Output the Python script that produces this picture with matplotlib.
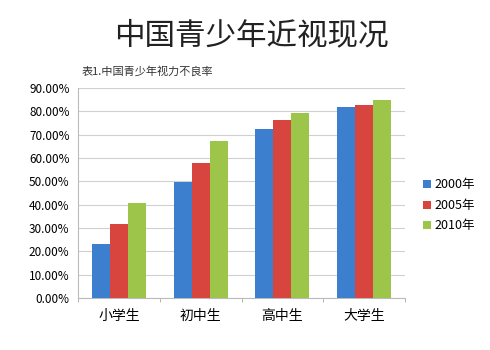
import matplotlib.pyplot as plt
import numpy as np
from matplotlib.ticker import FuncFormatter, MultipleLocator

plt.rcParams['font.family'] = ['Noto Sans CJK SC', 'DejaVu Sans']

categories = ['小学生', '初中生', '高中生', '大学生']
years = ['2000年', '2005年', '2010年']
rate_2000 = [23.0, 49.5, 72.5, 81.7]
rate_2005 = [31.5, 58.0, 76.3, 82.8]
rate_2010 = [40.8, 67.4, 79.3, 84.9]
colors = ['#3d7fcf', '#d8453f', '#9dc54a']

fig = plt.figure(figsize=(4.9, 3.5), dpi=100)
ax = fig.add_axes([0.159, 0.149, 0.668, 0.60])

x = np.arange(len(categories))
w = 0.22
for i, (vals, lab) in enumerate(zip([rate_2000, rate_2005, rate_2010], years)):
    ax.bar(x + (i - 1) * w, vals, w, color=colors[i], label=lab, zorder=3)

ax.set_xlim(-0.5, 3.5)
ax.set_ylim(0, 90)
ax.yaxis.set_major_locator(MultipleLocator(10))
ax.yaxis.set_major_formatter(FuncFormatter(lambda v, p: '%.2f%%' % v))
ax.grid(axis='y', color='#d0d0d0', lw=0.8, zorder=0)
ax.set_xticks(x)
ax.set_xticklabels(categories, fontsize=10)
ax.set_xticks(np.arange(-0.5, 4, 1), minor=True)
ax.tick_params(axis='x', which='major', length=0, pad=8)
ax.tick_params(axis='x', which='minor', length=3, color='#aaaaaa')
ax.tick_params(axis='y', length=0, labelsize=8.5, pad=6)
for s in ['top', 'right']:
    ax.spines[s].set_visible(False)
ax.spines['left'].set_color('#bbbbbb')
ax.spines['bottom'].set_color('#bbbbbb')

ax.legend(loc='center left', bbox_to_anchor=(1.02, 0.44), frameon=False,
          fontsize=9, handlelength=0.6, handleheight=0.6, handletextpad=0.3,
          labelspacing=0.6)

fig.text(0.513, 0.898, '中国青少年近视现况', ha='center', va='center',
         fontsize=22, fontweight='light', color='#222222')
fig.text(0.167, 0.795, '表1.中国青少年视力不良率', ha='left', va='center',
         fontsize=8, color='#333333')

fig.savefig('out.png', dpi=100)
